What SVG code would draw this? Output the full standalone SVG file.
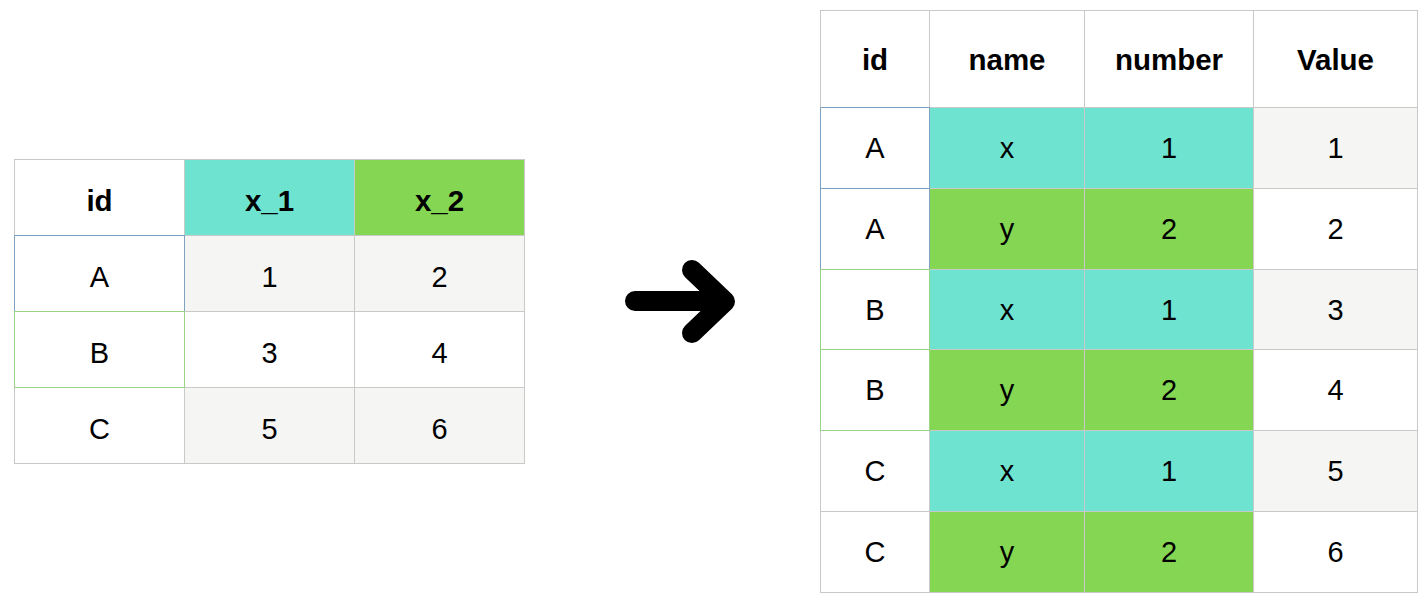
<svg xmlns="http://www.w3.org/2000/svg" width="1426" height="604" viewBox="0 0 1426 604">
<style>
.c{stroke:#c9c9c9;stroke-width:1}
.w{fill:#ffffff}
.g{fill:#f5f5f3}
.t{fill:#6ee3d0}
.n{fill:#84d653}
.bb{fill:none;stroke:#7fa2c2;stroke-width:1}
.gb{fill:none;stroke:#98d483;stroke-width:1}
text{font-family:"Liberation Sans",Arial,Helvetica,sans-serif;text-anchor:middle;fill:#000}
.h{font-size:29.5px;font-weight:bold}
.d{font-size:29px}
</style>
<rect width="1426" height="604" fill="#ffffff"/>
<g id="table-wide">
<g id="wide-header">
<rect class="c w" x="14.5" y="159.5" width="170" height="76"/>
<rect class="c t" x="184.5" y="159.5" width="170" height="76"/>
<rect class="c n" x="354.5" y="159.5" width="170" height="76"/>
<text class="h" x="99.5" y="211">id</text>
<text class="h" x="269.5" y="211">x_1</text>
<text class="h" x="439.5" y="211">x_2</text>
</g>
<g id="wide-row-A">
<rect class="c w" x="14.5" y="235.5" width="170" height="76"/>
<rect class="c g" x="184.5" y="235.5" width="170" height="76"/>
<rect class="c g" x="354.5" y="235.5" width="170" height="76"/>
<text class="d" x="99.5" y="286.5">A</text>
<text class="d" x="269.5" y="286.5">1</text>
<text class="d" x="439.5" y="286.5">2</text>
</g>
<g id="wide-row-B">
<rect class="c w" x="14.5" y="311.5" width="170" height="76"/>
<rect class="c w" x="184.5" y="311.5" width="170" height="76"/>
<rect class="c w" x="354.5" y="311.5" width="170" height="76"/>
<text class="d" x="99.5" y="362.5">B</text>
<text class="d" x="269.5" y="362.5">3</text>
<text class="d" x="439.5" y="362.5">4</text>
</g>
<g id="wide-row-C">
<rect class="c w" x="14.5" y="387.5" width="170" height="76"/>
<rect class="c g" x="184.5" y="387.5" width="170" height="76"/>
<rect class="c g" x="354.5" y="387.5" width="170" height="76"/>
<text class="d" x="99.5" y="438.5">C</text>
<text class="d" x="269.5" y="438.5">5</text>
<text class="d" x="439.5" y="438.5">6</text>
</g>
<rect class="bb" x="14.5" y="235.5" width="170" height="76"/>
<rect class="gb" x="14.5" y="311.5" width="170" height="76"/>
</g>
<g id="connectors">
<path d="M635,301 H724 M692,270 L725,301.5 L692,333" fill="none" stroke="#000" stroke-width="20" stroke-linecap="round" stroke-linejoin="round"/>
</g>
<g id="table-long">
<g id="long-header">
<rect class="c w" x="820.5" y="10.5" width="109" height="97"/>
<rect class="c w" x="929.5" y="10.5" width="155" height="97"/>
<rect class="c w" x="1084.5" y="10.5" width="169" height="97"/>
<rect class="c w" x="1253.5" y="10.5" width="164" height="97"/>
<text class="h" x="875" y="70">id</text>
<text class="h" x="1007" y="70">name</text>
<text class="h" x="1169" y="70">number</text>
<text class="h" x="1335.5" y="70">Value</text>
</g>
<g id="long-row-1">
<rect class="c w" x="820.5" y="107.5" width="109" height="81"/>
<rect class="c t" x="929.5" y="107.5" width="155" height="81"/>
<rect class="c t" x="1084.5" y="107.5" width="169" height="81"/>
<rect class="c g" x="1253.5" y="107.5" width="164" height="81"/>
<text class="d" x="875" y="158">A</text>
<text class="d" x="1007" y="158">x</text>
<text class="d" x="1169" y="158">1</text>
<text class="d" x="1335.5" y="158">1</text>
</g>
<g id="long-row-2">
<rect class="c w" x="820.5" y="188.5" width="109" height="81"/>
<rect class="c n" x="929.5" y="188.5" width="155" height="81"/>
<rect class="c n" x="1084.5" y="188.5" width="169" height="81"/>
<rect class="c w" x="1253.5" y="188.5" width="164" height="81"/>
<text class="d" x="875" y="239">A</text>
<text class="d" x="1007" y="239">y</text>
<text class="d" x="1169" y="239">2</text>
<text class="d" x="1335.5" y="239">2</text>
</g>
<g id="long-row-3">
<rect class="c w" x="820.5" y="269.5" width="109" height="80"/>
<rect class="c t" x="929.5" y="269.5" width="155" height="80"/>
<rect class="c t" x="1084.5" y="269.5" width="169" height="80"/>
<rect class="c g" x="1253.5" y="269.5" width="164" height="80"/>
<text class="d" x="875" y="319.5">B</text>
<text class="d" x="1007" y="319.5">x</text>
<text class="d" x="1169" y="319.5">1</text>
<text class="d" x="1335.5" y="319.5">3</text>
</g>
<g id="long-row-4">
<rect class="c w" x="820.5" y="349.5" width="109" height="81"/>
<rect class="c n" x="929.5" y="349.5" width="155" height="81"/>
<rect class="c n" x="1084.5" y="349.5" width="169" height="81"/>
<rect class="c w" x="1253.5" y="349.5" width="164" height="81"/>
<text class="d" x="875" y="400">B</text>
<text class="d" x="1007" y="400">y</text>
<text class="d" x="1169" y="400">2</text>
<text class="d" x="1335.5" y="400">4</text>
</g>
<g id="long-row-5">
<rect class="c w" x="820.5" y="430.5" width="109" height="81"/>
<rect class="c t" x="929.5" y="430.5" width="155" height="81"/>
<rect class="c t" x="1084.5" y="430.5" width="169" height="81"/>
<rect class="c g" x="1253.5" y="430.5" width="164" height="81"/>
<text class="d" x="875" y="481">C</text>
<text class="d" x="1007" y="481">x</text>
<text class="d" x="1169" y="481">1</text>
<text class="d" x="1335.5" y="481">5</text>
</g>
<g id="long-row-6">
<rect class="c w" x="820.5" y="511.5" width="109" height="81"/>
<rect class="c n" x="929.5" y="511.5" width="155" height="81"/>
<rect class="c n" x="1084.5" y="511.5" width="169" height="81"/>
<rect class="c w" x="1253.5" y="511.5" width="164" height="81"/>
<text class="d" x="875" y="562">C</text>
<text class="d" x="1007" y="562">y</text>
<text class="d" x="1169" y="562">2</text>
<text class="d" x="1335.5" y="562">6</text>
</g>
<rect class="bb" x="820.5" y="107.5" width="109" height="81"/>
<rect class="bb" x="820.5" y="188.5" width="109" height="81"/>
<rect class="gb" x="820.5" y="269.5" width="109" height="80"/>
<rect class="gb" x="820.5" y="349.5" width="109" height="81"/>
</g>
</svg>
